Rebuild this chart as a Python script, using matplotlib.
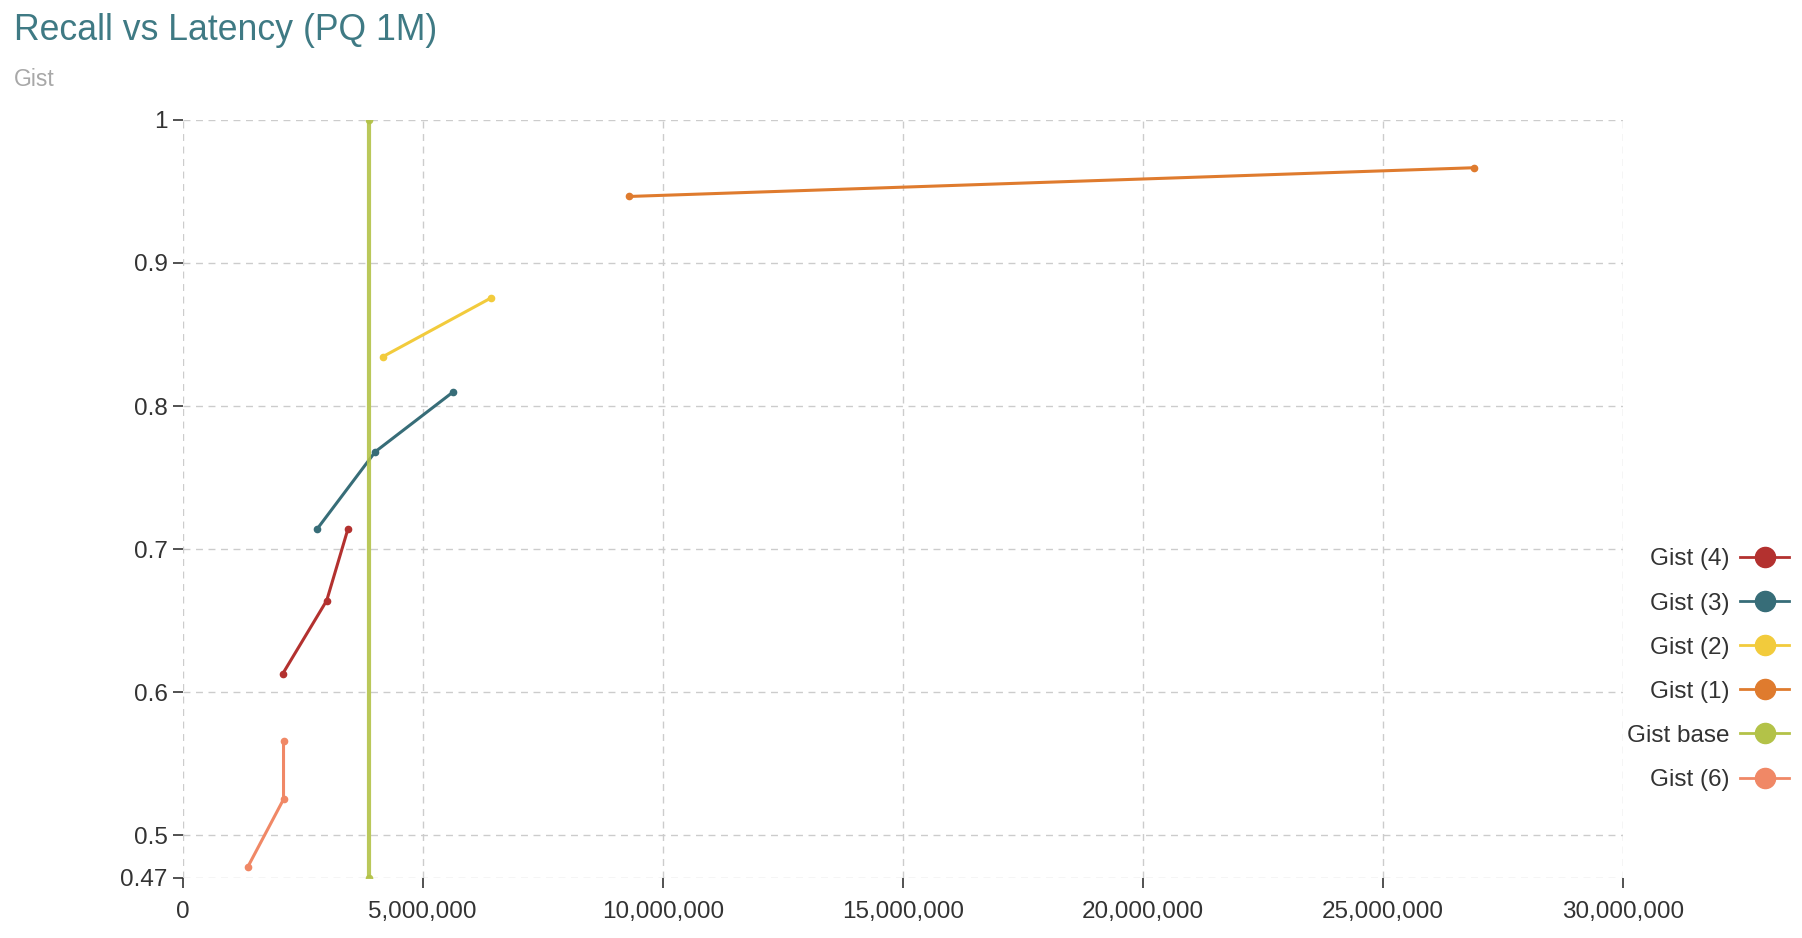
import matplotlib
matplotlib.use("Agg")
import matplotlib.pyplot as plt
from matplotlib.ticker import FuncFormatter, FixedLocator
from matplotlib.lines import Line2D

plt.rcParams['font.family'] = ['Liberation Sans', 'DejaVu Sans']

# Data (latency, recall)
gist4_x = [2080000, 3000000, 3440000]
gist4_y = [0.6126, 0.664, 0.7138]
gist3_x = [2800000, 4010000, 5640000]
gist3_y = [0.714, 0.768, 0.810]
gist2_x = [4170000, 6420000]
gist2_y = [0.8345, 0.8755]
gist1_x = [9290000, 26900000]
gist1_y = [0.9465, 0.9666]
base_x = [3875000, 3875000]
base_y = [0.47, 1.0]
gist6_x = [1360000, 2100000, 2100000]
gist6_y = [0.478, 0.525, 0.566]

series = [
    ("Gist (4)", gist4_x, gist4_y, "#b3312f"),
    ("Gist (3)", gist3_x, gist3_y, "#376d78"),
    ("Gist (2)", gist2_x, gist2_y, "#f2cb3c"),
    ("Gist (1)", gist1_x, gist1_y, "#df7b2e"),
    ("Gist base", base_x, base_y, "#b3c248"),
    ("Gist (6)", gist6_x, gist6_y, "#f08866"),
]

x_ticks = [0, 5000000, 10000000, 15000000, 20000000, 25000000, 30000000]
y_ticks = [0.47, 0.5, 0.6, 0.7, 0.8, 0.9, 1.0]

fig = plt.figure(figsize=(18.02, 9.38), dpi=100)
ax = fig.add_axes([0.1014, 0.064, 0.9005 - 0.1014, 0.8721 - 0.064])

for name, xs, ys, c in series:
    lw = 3.0 if name == "Gist base" else 2.2
    ax.plot(xs, ys, color=c, lw=lw, marker='o', markersize=4.5,
            label=name, solid_capstyle='round',
            alpha=0.9 if name == "Gist base" else 1.0)

ax.set_xlim(0, 30000000)
ax.set_ylim(0.47, 1.0)
ax.xaxis.set_major_locator(FixedLocator(x_ticks))
ax.yaxis.set_major_locator(FixedLocator(y_ticks))
ax.xaxis.set_major_formatter(FuncFormatter(lambda v, p: f"{int(v):,}"))
ax.yaxis.set_major_formatter(FuncFormatter(lambda v, p: f"{v:g}"))

for s in ax.spines.values():
    s.set_visible(False)
ax.grid(True, color="#cccccc", linestyle=(0, (5, 4)), linewidth=1.0)
ax.set_axisbelow(True)
ax.tick_params(axis='both', length=7, width=1.2, color="#333333",
               labelsize=17.5, labelcolor="#333333")
ax.tick_params(axis='x', pad=9.5)
ax.tick_params(axis='y', pad=4)

fig.text(0.0075, 0.967, "Recall vs Latency (PQ 1M)", fontsize=25.7, color="#3f7a84",
         ha='left', va='center')
fig.text(0.0075, 0.9155, "Gist", fontsize=16.5, color="#a8a8a8", ha='left', va='center')

leg_handles = [Line2D([0], [0], color=c, lw=2.0, marker='o', markersize=14.5,
                      markerfacecolor=c, markeredgecolor=c)
               for _, _, _, c in series]
leg = fig.legend(leg_handles, [s[0] for s in series], loc='center right',
                 bbox_to_anchor=(0.9995, 0.286), frameon=False, markerfirst=False,
                 fontsize=17.5, labelspacing=0.91, handlelength=2.0,
                 handletextpad=0.45, borderpad=0)
for t in leg.get_texts():
    t.set_color("#333333")

fig.savefig("out.png", dpi=100)
